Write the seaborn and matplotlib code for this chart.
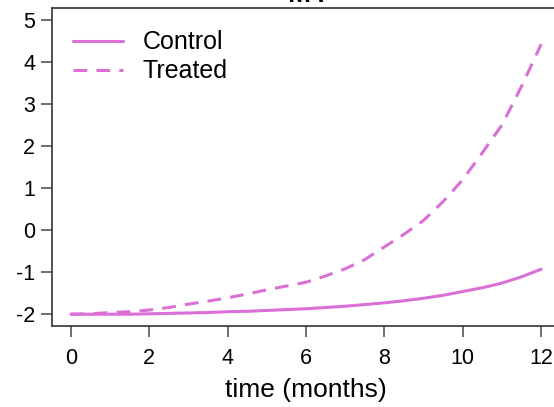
import numpy as np
import pandas as pd
import matplotlib
matplotlib.use('Agg')
import matplotlib.pyplot as plt
import seaborn as sns

# values, every half month
months = [0, 0.5, 1, 1.5, 2, 2.5, 3, 3.5, 4, 4.5, 5, 5.5, 6, 6.5,
          7, 7.5, 8, 8.5, 9, 9.5, 10, 10.5, 11, 11.5, 12]
control = [-2.0, -2.0, -2.0, -2.0, -1.99, -1.98, -1.97, -1.96, -1.94, -1.93, -1.91, -1.89, -1.87, -1.84,
           -1.81, -1.77, -1.73, -1.68, -1.62, -1.55, -1.46, -1.37, -1.26, -1.11, -0.93]
treated = [-2.0, -1.99, -1.96, -1.94, -1.9, -1.84, -1.76, -1.69, -1.61, -1.52, -1.42, -1.33, -1.24, -1.09,
           -0.92, -0.70, -0.40, -0.10, 0.23, 0.68, 1.2, 1.84, 2.5, 3.42, 4.42]
groups = ['Control', 'Treated']
x_ticks = [0, 2, 4, 6, 8, 10, 12]
y_ticks = [-2, -1, 0, 1, 2, 3, 4, 5]

df = pd.DataFrame({
    'time': months * 2,
    'value': control + treated,
    'group': [groups[0]] * len(months) + [groups[1]] * len(months),
})

sns.set_style('ticks')
plt.rcParams['font.family'] = ['Liberation Sans', 'DejaVu Sans']
plt.rcParams['axes.unicode_minus'] = False
plt.rcParams['text.color'] = 'black'
plt.rcParams['axes.labelcolor'] = 'black'
plt.rcParams['xtick.labelcolor'] = 'black'
plt.rcParams['ytick.labelcolor'] = 'black'

fig = plt.figure(figsize=(5.54, 4.07), dpi=100)
W, H = 554, 407
ax = fig.add_axes([52 / W, (H - 326) / H, (560 - 52) / W, (326 - 8) / H])

col = '#DA70D6'
sns.lineplot(data=df, x='time', y='value', hue='group', style='group',
             palette=[col, col], dashes={'Control': '', 'Treated': (4.5, 3)},
             linewidth=2.2, ax=ax)

ax.set_xlim(-0.48, 12.48)
ax.set_ylim(-2.28, 5.28)
ax.set_xticks(x_ticks)
ax.set_yticks(y_ticks)
ax.tick_params(axis='both', labelsize=15.5, length=8, width=1.2, color='#555555', pad=4)
ax.tick_params(axis='x', pad=8)
for s in ax.spines.values():
    s.set_visible(True)
    s.set_color('#333333')
    s.set_linewidth(1.2)

ax.set_xlabel('time (months)', fontsize=19, labelpad=6)
ax.set_ylabel('')
ax.set_title('M4', fontsize=20, fontweight='bold', pad=3)

leg = ax.legend(loc='upper left', bbox_to_anchor=(0.041, 0.93), frameon=False,
                fontsize=18, handlelength=2.0, handletextpad=0.8,
                labelspacing=0.2, borderpad=0, borderaxespad=0)
for line in leg.get_lines():
    line.set_linewidth(2.2)

fig.savefig('out.png', dpi=100)
